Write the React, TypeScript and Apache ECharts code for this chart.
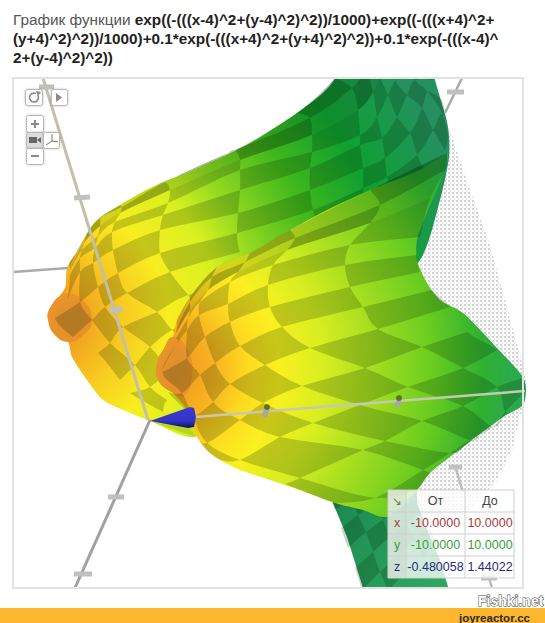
import React, { useEffect, useRef } from "react";
import * as echarts from "echarts";

const W = 545;
const H = 623;

const titleLead = "График функции ";
const titleLine1 = "exp((-(((x-4)^2+(y-4)^2)^2))/1000)+exp((-(((x+4)^2+";
const titleLine2 = "(y+4)^2)^2))/1000)+0.1*exp(-(((x+4)^2+(y+4)^2)^2))+0.1*exp(-(((x-4)^";
const titleLine3 = "2+(y-4)^2)^2))";

const tableHead = ["От", "До"];
const rangeNames = ["x", "y", "z"];
const rangeFrom = ["-10.0000", "-10.0000", "-0.480058"];
const rangeTo = ["10.0000", "10.0000", "1.44022"];

type P = number[];

// Surface: rows of crossing points of the checker lines.
const frontRows: P[][] = [
  [[177,320],[177,320],[190,297],[217,267],[250,253],[290,230],[370,190],[447,153]],
  [[177,328],[177,328],[190,302],[212,277],[245,262],[295,238],[380,205],[445,170]],
  [[176,333],[176,333],[190,310],[208,290],[238,272],[287,250],[370,223],[430,198]],
  [[176,338],[176,338],[188,318],[200,302],[230,282],[273,265],[350,245],[420,237]],
  [[177,343],[177,343],[187,330],[199,315],[228,304],[268,285],[345,265],[417,255]],
  [[162,372],[162,372],[187,358],[205,337],[230,322],[270,307],[350,287],[420,272]],
  [[168,392],[182,393],[200,375],[215,363],[240,346],[282,327],[363,307],[432,290]],
  [[187,412],[193,417],[213,402],[230,384],[265,365],[310,348],[378,329],[450,307]],
  [[197,437],[207,443],[240,420],[263,403],[302,386],[365,368],[422,347],[467,332]],
  [[220,460],[240,460],[280,437],[313,423],[360,405],[408,387],[463,368],[497,350]],
  [[285,484],[300,478],[363,450],[385,441],[422,421],[463,406],[497,387],[523,378]],
  [[335,503],[375,498],[423,470],[450,453],[470,440],[493,427],[505,412],[525,392]],
  [[387,517],[417,490],[430,473],[463,447],[480,435],[503,417],[515,405],[525,392]],
];
const frontOutline: P[] = [
  [177,320],[190,297],[217,267],[250,253],[290,230],[323,212],[370,190],[420,170],[447,153],[448,157],
  [440,183],[427,213],[417,240],[417,260],[427,283],[440,300],[463,313],[497,348],[523,377],[526,390],
  [523,405],[503,417],[463,447],[430,473],[417,490],[387,517],[363,510],[335,503],[300,490],[270,480],
  [240,470],[220,460],[207,450],[197,437],[187,410],[173,393],[158,380],[157,363],[173,337],
];
const frontTip: P[] = [[173,337],[163,350],[157,363],[158,380],[173,393],[184,396],[192,375],[188,350]];

const backRows: P[][] = [
  [[70,262],[78,250],[95,222],[120,205],[155,186],[225,155],[297,113],[335,78],[345,60],[355,50],[370,40],[390,30],[420,30]],
  [[69,267],[86,235],[100,218],[122,207],[165,182],[235,150],[310,118],[352,88],[365,70],[370,60],[380,50],[395,40],[422,40]],
  [[70,268],[84,243],[100,226],[120,213],[170,190],[240,160],[312,135],[358,110],[373,92],[380,78],[390,60],[400,45],[425,50]],
  [[70,270],[82,250],[98,236],[115,222],[168,203],[240,170],[312,152],[360,135],[377,117],[388,95],[395,80],[405,60],[430,62]],
  [[70,275],[80,258],[95,248],[112,232],[163,215],[240,190],[310,168],[360,145],[382,138],[397,117],[407,95],[415,80],[435,80]],
  [[67,300],[80,272],[93,263],[113,250],[160,230],[238,213],[310,190],[363,168],[385,158],[410,133],[422,108],[428,92],[442,100]],
  [[55,318],[80,302],[98,287],[118,273],[160,253],[237,233],[313,210],[363,188],[387,177],[417,155],[433,130],[442,113],[448,127]],
  [[73,337],[92,320],[105,307],[127,293],[170,272],[240,252],[318,232],[365,210],[392,195],[425,170],[445,150],[448,135],[449,155]],
  [[98,353],[110,343],[123,327],[157,312],[188,295],[255,280]],
  [[120,380],[135,365],[150,347],[172,330],[205,315],[270,300]],
  [[130,393],[150,387],[170,370],[195,350],[230,340],[290,320]],
  [[163,412],[167,400],[190,385],[215,370]],
];
const backOutline: P[] = [
  [48,318],[50,308],[65,288],[67,268],[78,250],[95,222],[120,205],[150,188],[200,167],[250,143],[297,113],
  [323,93],[335,78],[335,60],[430,60],[435,80],[448,127],[449,157],[440,200],[420,260],[300,400],[193,437],
  [148,420],[130,413],[103,400],[87,380],[72,357],[68,342],[55,335],
];
const backTip: P[] = [[63,295],[50,308],[48,320],[55,335],[68,342],[80,338],[92,320],[80,298]];
const limeStripe: P[] = [[152,422],[190,428],[196,437],[172,429]];

const underRows: P[][] = [
  [[325,480],[345,470],[365,470],[385,465],[405,460],[420,470]],
  [[335,510],[352,498],[370,490],[388,482],[405,475],[420,490]],
  [[341,528],[358,515],[376,503],[393,495],[410,488],[425,515]],
  [[348,548],[366,532],[383,520],[400,510],[416,500],[430,530]],
  [[355,568],[373,552],[390,537],[407,525],[422,515],[437,550]],
  [[362,590],[380,572],[398,555],[415,540],[430,530],[445,575]],
  [[367,605],[388,590],[406,572],[423,557],[437,545],[452,595]],
];
const underOutline: P[] = [[325,480],[333,503],[347,537],[363,588],[449,590],[440,560],[427,530],[417,503],[417,470]];

const dottedOutline: P[] = [
  [450,130],[470,190],[490,245],[505,300],[520,355],[527,385],[522,410],[512,450],[497,480],[470,510],[440,520],[420,510],[400,450],[415,250],
];

const axisBack: P[] = [[13,272],[68,268]];
const axisUpLeft: P[] = [[43,78],[148,420]];
const axisDownLeft: P[] = [[150,420],[75,588]];
const axisRight: P[] = [[195,417],[525,391]];
const axisUpRight: P[] = [[445,113],[462,78]];
const axisLowRight1: P[] = [[455,466],[463,492]];
const axisLowRight2: P[] = [[489,578],[492,588]];
const axisTicks: P[][] = [
  [[39,87],[54,87]], [[74,198],[90,197]], [[109,310],[123,309]],
  [[108,497],[124,497]], [[74,574],[92,574]], [[447,92],[464,92]],
  [[449,467],[462,467]], [[481,578],[497,578]],
];
const rightTicks: P[][] = [[[264,417],[267,409]], [[397,407],[399,400]]];
const rightKnobs: P[] = [[267,407],[399,398]];
const conePoints: P[] = [[150,421],[190,407],[194,408],[196,417],[194,427],[188,428]];

// Catmull-Rom evaluation so the traced checker lines bend as in the picture.
const cr = (a: P, b: P, c: P, d: P, t: number) => [0, 1].map((k) =>
  0.5 * (2 * b[k] + (c[k] - a[k]) * t + (2 * a[k] - 5 * b[k] + 4 * c[k] - d[k]) * t * t + (3 * b[k] - a[k] - 3 * c[k] + d[k]) * t * t * t));

function edge(pts: P[], i: number): P[] {
  const out: P[] = [];
  for (let s = 0; s <= 4; s++) {
    out.push(cr(pts[Math.max(i - 1, 0)], pts[i], pts[i + 1], pts[Math.min(i + 2, pts.length - 1)], s / 4));
  }
  return out;
}

function cellsOf(rows: P[][], firstRow: number, firstCol: number, dark: number, shadeUntil: number, shade: number) {
  const cells: { pts: P[]; fill: string }[] = [];
  for (let r = 0; r < rows.length - 1; r++) {
    const n = Math.min(rows[r].length, rows[r + 1].length);
    for (let c = 0; c < n - 1; c++) {
      const top = rows[r].slice(0, n);
      const bot = rows[r + 1].slice(0, n);
      const left = rows.filter((row) => row.length > c).map((row) => row[c]);
      const right = rows.filter((row) => row.length > c + 1).map((row) => row[c + 1]);
      const isDark = (r + firstRow + c + firstCol + 200) % 2 === 0;
      const rowLabel = r + firstRow;
      let a = isDark ? dark : 0;
      if (rowLabel <= shadeUntil) a += shade;
      if (a === 0) continue;
      const pts = [
        ...edge(top, c),
        ...edge(right, r),
        ...edge(bot, c).reverse(),
        ...edge(left, r).reverse(),
      ];
      cells.push({ pts, fill: `rgba(0,30,0,${a.toFixed(2)})` });
    }
  }
  return cells;
}

const polySeries = (items: { pts: P[]; fill: any; smooth?: number }[], z: number) => ({
  type: "custom",
  coordinateSystem: "cartesian2d",
  silent: true,
  z,
  clip: false,
  data: items.map((_, i) => [i, 0]),
  renderItem: (params: any, api: any) => {
    const it = items[params.dataIndex];
    return {
      type: "polygon",
      shape: { points: it.pts.map((p) => api.coord(p)), smooth: it.smooth || 0 },
      style: { fill: it.fill, stroke: "none" },
    };
  },
});

const lineSeries = (pts: P[], color: string, width: number, z: number, opacity = 1) => ({
  type: "line",
  data: pts,
  showSymbol: false,
  silent: true,
  z,
  clip: false,
  lineStyle: { color, width, opacity, cap: "butt" },
});

const radial = (x: number, y: number, r: number, stops: [number, string][]) => ({
  type: "radial", x, y, r, global: true,
  colorStops: stops.map(([offset, color]) => ({ offset, color })),
});
const linear = (x: number, y: number, x2: number, y2: number, stops: [number, string][]) => ({
  type: "linear", x, y, x2, y2, global: true,
  colorStops: stops.map(([offset, color]) => ({ offset, color })),
});

const frontFill = radial(157, 370, 370, [
  [0, "#e8921c"], [0.08, "#f0a020"], [0.15, "#f8b020"], [0.25, "#fddc20"], [0.33, "#fbf020"], [0.45, "#d8ee20"],
  [0.6, "#a0dc20"], [0.75, "#68cc20"], [0.88, "#30b030"], [1, "#28a858"],
]);
const backFill = radial(48, 320, 430, [
  [0, "#e8921c"], [0.07, "#f0a020"], [0.17, "#f8c820"], [0.28, "#f8ee20"], [0.4, "#d8f020"],
  [0.5, "#90d820"], [0.65, "#40b81c"], [0.8, "#10a030"], [0.9, "#189a48"], [1, "#259060"],
]);
const underFill = linear(340, 500, 440, 580, [[0, "#1c8a50"], [1, "#2ea860"]]);
const tipFill = {
  type: "radial", x: 0.55, y: 0.55, r: 0.65,
  colorStops: [{ offset: 0, color: "#dc902c" }, { offset: 0.7, color: "#e8922a" }, { offset: 1, color: "#ec9a20" }],
};
const coneFill = {
  type: "linear", x: 0, y: 0, x2: 0, y2: 1,
  colorStops: [{ offset: 0, color: "#3a3ad0" }, { offset: 0.65, color: "#3434c8" }, { offset: 1, color: "#10105a" }],
};

function dotPattern() {
  const c = document.createElement("canvas");
  c.width = 4;
  c.height = 4;
  const g = c.getContext("2d")!;
  g.fillStyle = "#ffffff";
  g.fillRect(0, 0, 4, 4);
  g.fillStyle = "#d2d2d2";
  g.fillRect(0, 0, 2, 2);
  g.fillStyle = "#e4e4e4";
  g.fillRect(2, 2, 1, 2);
  return c;
}

const FONT = "Liberation Sans";
const TITLE_SIZE = 15.3;

function tableGraphic() {
  const els: any[] = [];
  const xs = [388, 406, 465, 514];
  const ys = [490, 512, 534, 556, 578];
  els.push({ type: "rect", z: 60, shape: { x: 388, y: 490, width: 126, height: 88 }, style: { fill: "rgba(255,255,255,0.78)" } });
  els.push({ type: "rect", z: 60, shape: { x: 388, y: 490, width: 18, height: 88 }, style: { fill: "rgba(200,215,200,0.35)" } });
  xs.forEach((x) => els.push({ type: "line", z: 61, shape: { x1: x, y1: 490, x2: x, y2: 578 }, style: { stroke: "#cfcfcf", lineWidth: 1 } }));
  ys.forEach((y) => els.push({ type: "line", z: 61, shape: { x1: 388, y1: y, x2: 514, y2: y }, style: { stroke: "#cfcfcf", lineWidth: 1 } }));
  const txt = (text: string, x: number, y: number, fill: string, size = 12.5, family = FONT) => ({
    type: "text", z: 62, x, y,
    style: { text, fill, font: `${size}px "${family}"`, textAlign: "center", textVerticalAlign: "middle" },
  });
  els.push(txt("↘", 397, 501, "#777", 12, "DejaVu Sans"));
  els.push(txt(tableHead[0], 435.5, 501, "#444"));
  els.push(txt(tableHead[1], 490, 501, "#444"));
  const colors = ["#a83a3a", "#3aa03a", "#2a2a80"];
  rangeNames.forEach((n, i) => {
    const y = ys[i + 1] + 11;
    els.push(txt(n, 397, y, colors[i]));
    els.push(txt(rangeFrom[i], 435.5, y, colors[i]));
    els.push(txt(rangeTo[i], 490, y, colors[i]));
  });
  return els;
}

function button(x: number, y: number, w: number, h: number, fill = "#ffffff") {
  return { type: "rect", z: 70, shape: { x, y, width: w, height: h, r: 2 }, style: { fill, stroke: "#b8b8b8", lineWidth: 1, shadowBlur: 2, shadowColor: "rgba(0,0,0,0.25)" } };
}

function controlsGraphic() {
  const gray = "#8a8a8a";
  return [
    button(25.5, 89.5, 17, 16),
    { type: "arc", z: 71, shape: { cx: 34, cy: 97.5, r: 4.5, startAngle: -0.6, endAngle: 5.2, clockwise: true }, style: { stroke: gray, fill: "none", lineWidth: 1.6 } },
    { type: "polygon", z: 71, shape: { points: [[36, 91], [41, 92], [38, 96]] }, style: { fill: gray } },
    button(51.5, 89.5, 16, 16),
    { type: "polygon", z: 71, shape: { points: [[56, 93], [62, 97.5], [56, 102]] }, style: { fill: gray } },
    button(26.5, 115.5, 17, 17),
    { type: "rect", z: 71, shape: { x: 31, y: 123, width: 8, height: 2 }, style: { fill: gray } },
    { type: "rect", z: 71, shape: { x: 34, y: 120, width: 2, height: 8 }, style: { fill: gray } },
    button(26.5, 132.5, 17, 16, "#dcdcdc"),
    { type: "rect", z: 71, shape: { x: 29, y: 137, width: 8, height: 6 }, style: { fill: "#666" } },
    { type: "polygon", z: 71, shape: { points: [[37, 140], [41, 137], [41, 143]] }, style: { fill: "#666" } },
    button(43.5, 132.5, 16, 16),
    { type: "polyline", z: 71, shape: { points: [[52, 134], [52, 141], [46, 145]] }, style: { stroke: "#777", fill: "none", lineWidth: 1 } },
    { type: "line", z: 71, shape: { x1: 52, y1: 141, x2: 58, y2: 142 }, style: { stroke: "#777", lineWidth: 1 } },
    button(26.5, 148.5, 17, 16),
    { type: "rect", z: 71, shape: { x: 31, y: 155, width: 8, height: 2 }, style: { fill: gray } },
  ];
}

export default function App() {
  const ref = useRef<HTMLDivElement>(null);
  useEffect(() => {
    document.body.style.margin = "0";
    const chart = echarts.init(ref.current!, undefined, { renderer: "svg", width: W, height: H });
    const option: any = {
      animation: false,
      backgroundColor: "#ffffff",
      grid: { left: 0, right: 0, top: 0, bottom: 0, containLabel: false },
      xAxis: { type: "value", min: 0, max: W, show: false },
      yAxis: { type: "value", min: 0, max: H, inverse: true, show: false },
      series: [
        polySeries([{ pts: dottedOutline, fill: { image: dotPattern(), repeat: "repeat" } }], 2),
        polySeries([{ pts: underOutline, fill: underFill }], 3),
        polySeries(cellsOf(underRows, 0, 0, 0.2, -1, 0), 4),
        polySeries([{ pts: backOutline, fill: backFill, smooth: 0.25 }, { pts: backTip, fill: tipFill, smooth: 0.5 }, { pts: limeStripe, fill: "#b4d820" }], 5),
        polySeries(cellsOf(backRows, -3, -1, 0.2, -2, 0.13), 6),
        polySeries([{ pts: frontOutline, fill: frontFill, smooth: 0.25 }, { pts: frontTip, fill: tipFill, smooth: 0.5 }], 7),
        polySeries(cellsOf(frontRows, -2, -2, 0.2, -1, 0.13), 8),
        lineSeries(axisBack, "#aaaaaa", 2.5, 9),
        lineSeries(axisUpRight, "#aaaaaa", 2.5, 9),
        lineSeries(axisLowRight1, "#bbbbbb", 2.5, 9),
        lineSeries(axisLowRight2, "#bbbbbb", 2.5, 9),
        lineSeries(axisDownLeft, "#a0a0a0", 3, 9),
        lineSeries(axisUpLeft, "#c4c0a8", 3, 9),
        lineSeries(axisRight, "#c8c8b0", 2.5, 9),
        ...axisTicks.map((t) => lineSeries(t, "#c0c0c0", 5, 10)),
        ...rightTicks.map((t) => lineSeries(t, "#a8a8a0", 5, 10)),
        {
          type: "scatter", data: rightKnobs, symbolSize: 6, silent: true, z: 11,
          itemStyle: { color: "#4a5a30" },
        },
        polySeries([{ pts: conePoints, fill: coneFill }], 12),
      ],
      graphic: [
        { type: "rect", z: 50, shape: { x: 0, y: 0, width: W, height: 78 }, style: { fill: "#ffffff" } },
        { type: "rect", z: 50, shape: { x: 0, y: 588, width: W, height: 35 }, style: { fill: "#ffffff" } },
        { type: "rect", z: 51, shape: { x: 13, y: 78, width: 510, height: 510 }, style: { fill: "none", stroke: "#e2e2e2", lineWidth: 2 } },
        {
          type: "text", z: 80, x: 13, y: 12,
          style: {
            text: `{a|${titleLead}}{b|${titleLine1}}`,
            rich: {
              a: { font: `${TITLE_SIZE}px "${FONT}"`, fill: "#555555" },
              b: { font: `bold ${TITLE_SIZE}px "${FONT}"`, fill: "#222222" },
            },
          },
        },
        { type: "text", z: 80, x: 13, y: 31, style: { text: titleLine2, font: `bold ${TITLE_SIZE}px "${FONT}"`, fill: "#222222" } },
        { type: "text", z: 80, x: 13, y: 50, style: { text: titleLine3, font: `bold ${TITLE_SIZE}px "${FONT}"`, fill: "#222222" } },
        ...controlsGraphic(),
        ...tableGraphic(),
        { type: "rect", z: 90, shape: { x: 0, y: 608, width: W, height: 15 }, style: { fill: "#fcb72e" } },
        { type: "text", z: 91, x: 459, y: 612, style: { text: "joyreactor.cc", font: `bold 11.5px "${FONT}"`, fill: "#2a2a2a" } },
        { type: "text", z: 92, x: 478, y: 594, style: { text: "Fishki.net", font: `bold 14px "${FONT}"`, fill: "#ffffff", stroke: "#444444", lineWidth: 1 } },
      ],
    };
    chart.setOption(option);
    return () => chart.dispose();
  }, []);
  return <div ref={ref} style={{ position: "fixed", left: 0, top: 0, width: W, height: H }} />;
}
